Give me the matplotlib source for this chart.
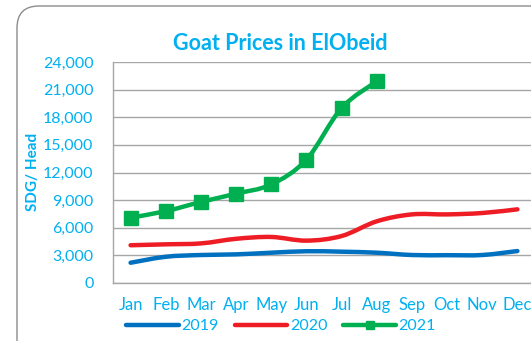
import matplotlib.pyplot as plt
import numpy as np
from matplotlib.path import Path
from matplotlib.patches import PathPatch, FancyBboxPatch
from matplotlib.lines import Line2D

months = ['Jan', 'Feb', 'Mar', 'Apr', 'May', 'Jun', 'Jul', 'Aug', 'Sep', 'Oct', 'Nov', 'Dec']
price_2019 = [2200, 2850, 3040, 3110, 3290, 3450, 3400, 3290, 3040, 3020, 3040, 3470]
price_2020 = [4100, 4200, 4300, 4800, 5000, 4600, 5100, 6700, 7450, 7450, 7600, 8000]
price_2021 = [7100, 7800, 8800, 9700, 10700, 13400, 19000, 21900]
years = ['2019', '2020', '2021']

cyan = '#00B0F0'
c2019 = '#0070C0'
c2020 = '#EE1C25'
c2021 = '#00B050'


def smooth_path(xs, ys):
    # excel style smoothed line as cubic bezier segments
    pts = np.column_stack([xs, ys]).astype(float)
    n = len(pts)
    verts = [pts[0]]
    codes = [Path.MOVETO]
    for i in range(n - 1):
        p0 = pts[max(i - 1, 0)]
        p1 = pts[i]
        p2 = pts[i + 1]
        p3 = pts[min(i + 2, n - 1)]
        verts += [p1 + (p2 - p0) / 6, p2 - (p3 - p1) / 6, p2]
        codes += [Path.CURVE4] * 3
    return Path(verts, codes)


plt.rcParams['font.family'] = ['Lato', 'DejaVu Sans']

W, H = 531, 341
fig = plt.figure(figsize=(W / 100, H / 100), dpi=100)

# rounded chart border
border = FancyBboxPatch((0.17, -0.5), 6.0, 3.35 + 0.5,
                        boxstyle='round,pad=0,rounding_size=0.22',
                        transform=fig.dpi_scale_trans, facecolor='none',
                        edgecolor='#8C8C8C', linewidth=1.0)
fig.patches.append(border)

ax = fig.add_axes([113 / W, (H - 283) / H, (535 - 113) / W, 221 / H])
ax.set_xlim(-0.5, 11.5)
ax.set_ylim(0, 24000)
ax.set_yticks(np.arange(0, 24001, 3000))
ax.set_yticklabels([f'{v:,}' for v in range(0, 24001, 3000)])
ax.set_xticks(range(12))
ax.set_xticklabels(months)
ax.tick_params(axis='both', length=0, labelcolor=cyan)
ax.tick_params(axis='y', pad=14, labelsize=11.5)
ax.tick_params(axis='x', pad=10, labelsize=12)
ax.grid(axis='y', color='#A6A6A6', linewidth=1.0)
ax.set_axisbelow(True)
for side in ['top', 'right']:
    ax.spines[side].set_visible(False)
for side in ['left', 'bottom']:
    ax.spines[side].set_color('#A6A6A6')
    ax.spines[side].set_linewidth(1.0)

x = np.arange(12)
for vals, col in [(price_2019, c2019), (price_2020, c2020), (price_2021, c2021)]:
    xs = x[:len(vals)]
    ax.add_patch(PathPatch(smooth_path(xs, vals), facecolor='none', edgecolor=col,
                           linewidth=3.2, capstyle='round', joinstyle='round'))
ax.plot(x[:len(price_2021)], price_2021, linestyle='none', marker='s',
        markersize=10.5, color=c2021)

fig.text(280 / W, 1 - 43 / H, 'Goat Prices in ElObeid', color=cyan,
         fontsize=15.5, fontweight='bold', ha='center', va='center')
fig.text(33 / W, 1 - 172 / H, 'SDG/ Head', color=cyan, fontsize=11,
         fontweight='bold', rotation=90, ha='center', va='center')

handles = [Line2D([], [], color=c2019, linewidth=3.2, solid_capstyle='round'),
           Line2D([], [], color=c2020, linewidth=3.2, solid_capstyle='round'),
           Line2D([], [], color=c2021, linewidth=3.2, solid_capstyle='round',
                  marker='s', markersize=6)]
leg = fig.legend(handles, years, loc='center', bbox_to_anchor=(281 / W, 1 - 326 / H),
                 ncol=3, frameon=False, handlelength=3.3, handletextpad=0.15,
                 columnspacing=1.0, fontsize=11.5, labelcolor=cyan, borderpad=0)

fig.savefig('out.png', dpi=100)
